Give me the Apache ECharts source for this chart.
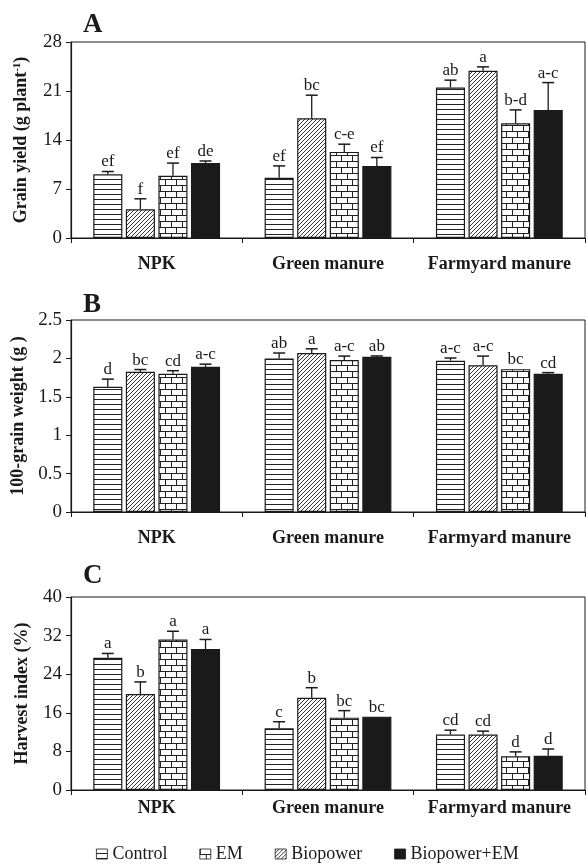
<!DOCTYPE html>
<html><head><meta charset="utf-8">
<script src="https://cdn.jsdelivr.net/npm/echarts@6/dist/echarts.min.js"></script>
<style>html,body{margin:0;padding:0;background:#fff}#c{width:586px;height:865px}</style>
</head><body><div id="c"></div>
<script>
// ---------- DATA ----------
const categories = ['NPK', 'Green manure', 'Farmyard manure'];
// plotting order of bars within each group
const seriesNames = ['Control', 'Biopower', 'EM', 'Biopower+EM'];
const legendOrder = ['Control', 'EM', 'Biopower', 'Biopower+EM'];

// A: Grain yield (g plant-1), values per [NPK, Green manure, Farmyard manure]
const yieldControl  = [9.1, 8.6, 21.5];
const yieldBiopower = [4.1, 17.1, 23.9];
const yieldEM       = [8.9, 12.3, 16.4];
const yieldBioEM    = [10.7, 10.3, 18.3];
const yieldErrControl  = [0.4, 1.7, 1.05];
const yieldErrBiopower = [1.5, 3.3, 0.55];
const yieldErrEM       = [1.8, 1.1, 1.9];
const yieldErrBioEM    = [0.3, 1.2, 3.9];
const yieldLetControl  = ['ef', 'ef', 'ab'];
const yieldLetBiopower = ['f', 'bc', 'a'];
const yieldLetEM       = ['ef', 'c-e', 'b-d'];
const yieldLetBioEM    = ['de', 'ef', 'a-c'];

// B: 100-grain weight (g)
const weightControl  = [1.63, 2.00, 1.97];
const weightBiopower = [1.825, 2.07, 1.91];
const weightEM       = [1.80, 1.98, 1.86];
const weightBioEM    = [1.89, 2.02, 1.80];
const weightErrControl  = [0.10, 0.07, 0.035];
const weightErrBiopower = [0.03, 0.055, 0.12];
const weightErrEM       = [0.04, 0.05, 0.0];
const weightErrBioEM    = [0.035, 0.012, 0.015];
const weightLetControl  = ['d', 'ab', 'a-c'];
const weightLetBiopower = ['bc', 'a', 'a-c'];
const weightLetEM       = ['cd', 'a-c', 'bc'];
const weightLetBioEM    = ['a-c', 'ab', 'cd'];

// C: Harvest index (%)
const hiControl  = [27.4, 12.8, 11.5];
const hiBiopower = [19.9, 19.1, 11.5];
const hiEM       = [31.2, 15.0, 7.0];
const hiBioEM    = [29.2, 15.2, 7.1];
const hiErrControl  = [0.9, 1.35, 0.9];
const hiErrBiopower = [2.5, 2.1, 0.7];
const hiErrEM       = [1.7, 1.45, 0.9];
const hiErrBioEM    = [2.0, 0.0, 1.4];
const hiLetControl  = ['a', 'c', 'cd'];
const hiLetBiopower = ['b', 'b', 'cd'];
const hiLetEM       = ['a', 'bc', 'd'];
const hiLetBioEM    = ['a', 'bc', 'd'];

// axis ticks
const yieldAxis  = {min: 0, max: 28, interval: 7};
const weightAxis = {min: 0, max: 2.5, interval: 0.5};
const hiAxis     = {min: 0, max: 40, interval: 8};

// ---------- STYLE ----------
const FONT = 'Liberation Serif';
const INK = '#1a1a1a';
const CAT_GAP = 0.26, BAR_GAP = 0.12;

function tile(w, h, draw) {
  const c = document.createElement('canvas');
  c.width = w; c.height = h;
  const ctx = c.getContext('2d');
  ctx.fillStyle = '#fff'; ctx.fillRect(0, 0, w, h);
  ctx.strokeStyle = '#222'; ctx.lineWidth = 1;
  ctx.beginPath(); draw(ctx); ctx.stroke();
  return c;
}
const patH = tile(6, 5, ctx => { ctx.moveTo(0, 4.5); ctx.lineTo(6, 4.5); });
const patD = tile(4, 4, ctx => {
  ctx.lineWidth = 0.9;
  ctx.moveTo(0, 4); ctx.lineTo(4, 0);
  ctx.moveTo(-1, 1); ctx.lineTo(1, -1);
  ctx.moveTo(3, 5); ctx.lineTo(5, 3);
});
const patB = tile(11, 12, ctx => {
  ctx.moveTo(0, 5.5); ctx.lineTo(11, 5.5);
  ctx.moveTo(0, 11.5); ctx.lineTo(11, 11.5);
  ctx.moveTo(0.5, 0); ctx.lineTo(0.5, 5.5);
  ctx.moveTo(6.5, 6); ctx.lineTo(6.5, 11.5);
});
const fills = [
  {image: patH, repeat: 'repeat'},
  {image: patD, repeat: 'repeat'},
  {image: patB, repeat: 'repeat'},
  INK
];

const panels = [
  {letter: 'A', letterTop: 12, top: 42, height: 196, axis: yieldAxis, labelMargin: 17,
   name: 'Grain yield (g plant{sup|-1})',
   values: [yieldControl, yieldBiopower, yieldEM, yieldBioEM],
   errs: [yieldErrControl, yieldErrBiopower, yieldErrEM, yieldErrBioEM],
   lets: [yieldLetControl, yieldLetBiopower, yieldLetEM, yieldLetBioEM]},
  {letter: 'B', letterTop: 292, top: 320, height: 192, axis: weightAxis, labelMargin: 17,
   name: '100-grain weight (g )',
   values: [weightControl, weightBiopower, weightEM, weightBioEM],
   errs: [weightErrControl, weightErrBiopower, weightErrEM, weightErrBioEM],
   lets: [weightLetControl, weightLetBiopower, weightLetEM, weightLetBioEM]},
  {letter: 'C', letterTop: 562.5, top: 597, height: 193, axis: hiAxis, labelMargin: 9,
   name: 'Harvest index (%)',
   values: [hiControl, hiBiopower, hiEM, hiBioEM],
   errs: [hiErrControl, hiErrBiopower, hiErrEM, hiErrBioEM],
   lets: [hiLetControl, hiLetBiopower, hiLetEM, hiLetBioEM]}
];

const grid = [], xAxis = [], yAxis = [], series = [], graphic = [];
panels.forEach((p, k) => {
  grid.push({left: 71, width: 514, top: p.top, height: p.height, show: true,
    borderColor: INK, borderWidth: 1, backgroundColor: 'transparent'});
  xAxis.push({type: 'category', gridIndex: k, data: categories,
    axisLine: {lineStyle: {color: INK, width: 1.2}},
    axisTick: {show: true, length: 5, lineStyle: {color: INK}},
    axisLabel: {interval: 0, fontFamily: FONT, fontWeight: 'bold', fontSize: 18, color: INK, margin: p.labelMargin}});
  yAxis.push({type: 'value', gridIndex: k, min: p.axis.min, max: p.axis.max, interval: p.axis.interval,
    splitLine: {show: false},
    axisLine: {show: true, lineStyle: {color: INK, width: 1.2}},
    axisTick: {show: true, length: 5, lineStyle: {color: INK}},
    axisLabel: {fontFamily: FONT, fontSize: 19, color: INK, margin: 9},
    name: p.name, nameLocation: 'middle', nameGap: 40,
    nameTextStyle: {fontFamily: FONT, fontWeight: 'bold', fontSize: 18, color: INK,
      rich: {sup: {fontFamily: FONT, fontWeight: 'bold', fontSize: 11, color: INK, verticalAlign: 'top', padding: [0, 0, 8, 0]}}}});
  seriesNames.forEach((nm, j) => {
    series.push({type: 'bar', name: nm, xAxisIndex: k, yAxisIndex: k,
      data: p.values[j], barCategoryGap: (CAT_GAP * 100) + '%', barGap: (BAR_GAP * 100) + '%',
      itemStyle: {color: fills[j], borderColor: INK, borderWidth: 1.2},
      emphasis: {disabled: true}});
  });
  const errData = [];
  seriesNames.forEach((nm, j) => {
    p.values[j].forEach((v, i) => errData.push([i, j, v, v + p.errs[j][i]]));
  });
  series.push({type: 'custom', xAxisIndex: k, yAxisIndex: k, z: 5, silent: true, clip: false,
    data: errData, encode: {x: 0, y: 3},
    renderItem: (params, api) => {
      const i = api.value(0), j = api.value(1), v = api.value(2), t = api.value(3);
      const base = api.coord([i, v]);
      const top = api.coord([i, t]);
      const cw = api.size([1, 0])[0];
      const gw = cw * (1 - CAT_GAP);
      const bw = gw / (4 + 3 * BAR_GAP);
      const x = base[0] - gw / 2 + bw / 2 + j * bw * (1 + BAR_GAP);
      const ch = [];
      if (t > v) {
        ch.push({type: 'line', shape: {x1: x, y1: base[1], x2: x, y2: top[1]}, style: {stroke: INK, lineWidth: 1.3}});
        ch.push({type: 'line', shape: {x1: x - 6, y1: top[1], x2: x + 6, y2: top[1]}, style: {stroke: INK, lineWidth: 1.5}});
      }
      ch.push({type: 'text', x: x, y: top[1] - 1,
        style: {text: p.lets[j][i], align: 'center', verticalAlign: 'bottom',
          font: '17px "' + FONT + '"', fill: INK}});
      return {type: 'group', children: ch};
    }});
  graphic.push({type: 'text', left: 83, top: p.letterTop,
    style: {text: p.letter, font: 'bold 27px "' + FONT + '"', fill: INK}});
});

const chart = echarts.init(document.getElementById('c'), null, {renderer: 'canvas'});
chart.setOption({
  animation: false,
  backgroundColor: '#fff',
  grid, xAxis, yAxis, series, graphic,
  legend: {data: legendOrder, top: 845, left: 96, padding: 0, itemGap: 32, itemWidth: 11, itemHeight: 10,
    icon: 'rect', selectedMode: false,
    itemStyle: {borderColor: INK, borderWidth: 0.8},
    textStyle: {fontFamily: FONT, fontSize: 18, color: INK}}
});
</script></body></html>
